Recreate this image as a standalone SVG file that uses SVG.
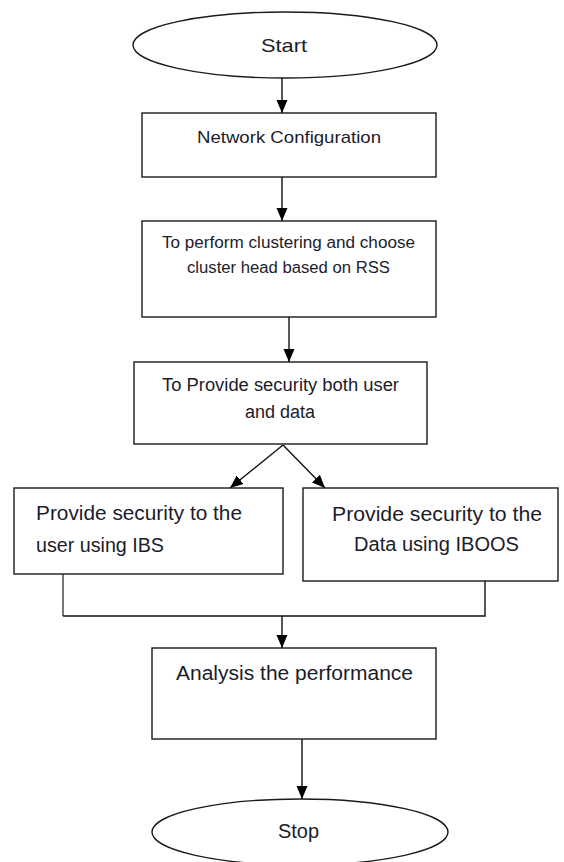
<svg xmlns="http://www.w3.org/2000/svg" width="564" height="862" viewBox="0 0 564 862">
<style>
.shape{fill:#fff;stroke:#1a1a1a;stroke-width:1.4}
.line{fill:none;stroke:#111;stroke-width:1.4}
.gray{fill:none;stroke:#777;stroke-width:2}
text{font-family:"Liberation Sans",Arial,sans-serif;fill:#1c1c2a}
.c{text-anchor:middle}
</style>
<defs>
<marker id="ah" markerUnits="userSpaceOnUse" markerWidth="14" markerHeight="14" viewBox="0 0 14 14" refX="13" refY="7" orient="auto">
<path d="M0,1.5 L13,7 L0,12.5 Z" fill="#000"/>
</marker>
</defs>
<g id="connectors">
<line class="line" x1="282" y1="78" x2="282" y2="113" marker-end="url(#ah)"/>
<line class="line" x1="282" y1="177" x2="282" y2="221" marker-end="url(#ah)"/>
<line class="line" x1="289" y1="317" x2="289" y2="362" marker-end="url(#ah)"/>
<line class="line" x1="283" y1="445" x2="230" y2="488" marker-end="url(#ah)"/>
<line class="line" x1="283" y1="445" x2="325" y2="488" marker-end="url(#ah)"/>
<polyline class="gray" points="63,574 63,616"/>
<polyline class="line" points="63,616 485,616 485,581"/>
<line class="line" x1="282" y1="616" x2="282" y2="648" marker-end="url(#ah)"/>
<line class="line" x1="302" y1="739" x2="302" y2="799" marker-end="url(#ah)"/>
</g>
<g id="start">
<ellipse class="shape" cx="285" cy="45" rx="152" ry="33"/>
<text class="c" x="284" y="52" font-size="19" textLength="46" lengthAdjust="spacingAndGlyphs">Start</text>
</g>
<g id="network">
<rect class="shape" x="142" y="113" width="294" height="64"/>
<text class="c" x="289" y="143" font-size="17" textLength="184" lengthAdjust="spacingAndGlyphs">Network Configuration</text>
</g>
<g id="cluster">
<rect class="shape" x="142" y="221" width="294" height="96"/>
<text class="c" x="288.5" y="248" font-size="16" textLength="253" lengthAdjust="spacingAndGlyphs">To perform clustering and choose</text>
<text class="c" x="288.5" y="273" font-size="16" textLength="203" lengthAdjust="spacingAndGlyphs">cluster head based on RSS</text>
</g>
<g id="security">
<rect class="shape" x="134" y="362" width="293" height="82"/>
<text class="c" x="280.5" y="391" font-size="18" textLength="237" lengthAdjust="spacingAndGlyphs">To Provide security both user</text>
<text class="c" x="280" y="418" font-size="18" textLength="70" lengthAdjust="spacingAndGlyphs">and data</text>
</g>
<g id="user-ibs">
<rect class="shape" x="14" y="488" width="269" height="86"/>
<text x="36" y="520" font-size="20" textLength="206" lengthAdjust="spacingAndGlyphs">Provide security to the</text>
<text x="36" y="552" font-size="20" textLength="128" lengthAdjust="spacingAndGlyphs">user using IBS</text>
</g>
<g id="data-iboos">
<rect class="shape" x="303" y="488" width="255" height="93"/>
<text class="c" x="437" y="521" font-size="20" textLength="210" lengthAdjust="spacingAndGlyphs">Provide security to the</text>
<text class="c" x="436.5" y="551" font-size="20" textLength="165" lengthAdjust="spacingAndGlyphs">Data using IBOOS</text>
</g>
<g id="analysis">
<rect class="shape" x="152" y="648" width="284" height="91"/>
<text class="c" x="294.5" y="680" font-size="20" textLength="237" lengthAdjust="spacingAndGlyphs">Analysis the performance</text>
</g>
<g id="stop">
<ellipse class="shape" cx="300" cy="832" rx="148" ry="33"/>
<text class="c" x="298.5" y="838" font-size="20" textLength="41" lengthAdjust="spacingAndGlyphs">Stop</text>
</g>
</svg>
